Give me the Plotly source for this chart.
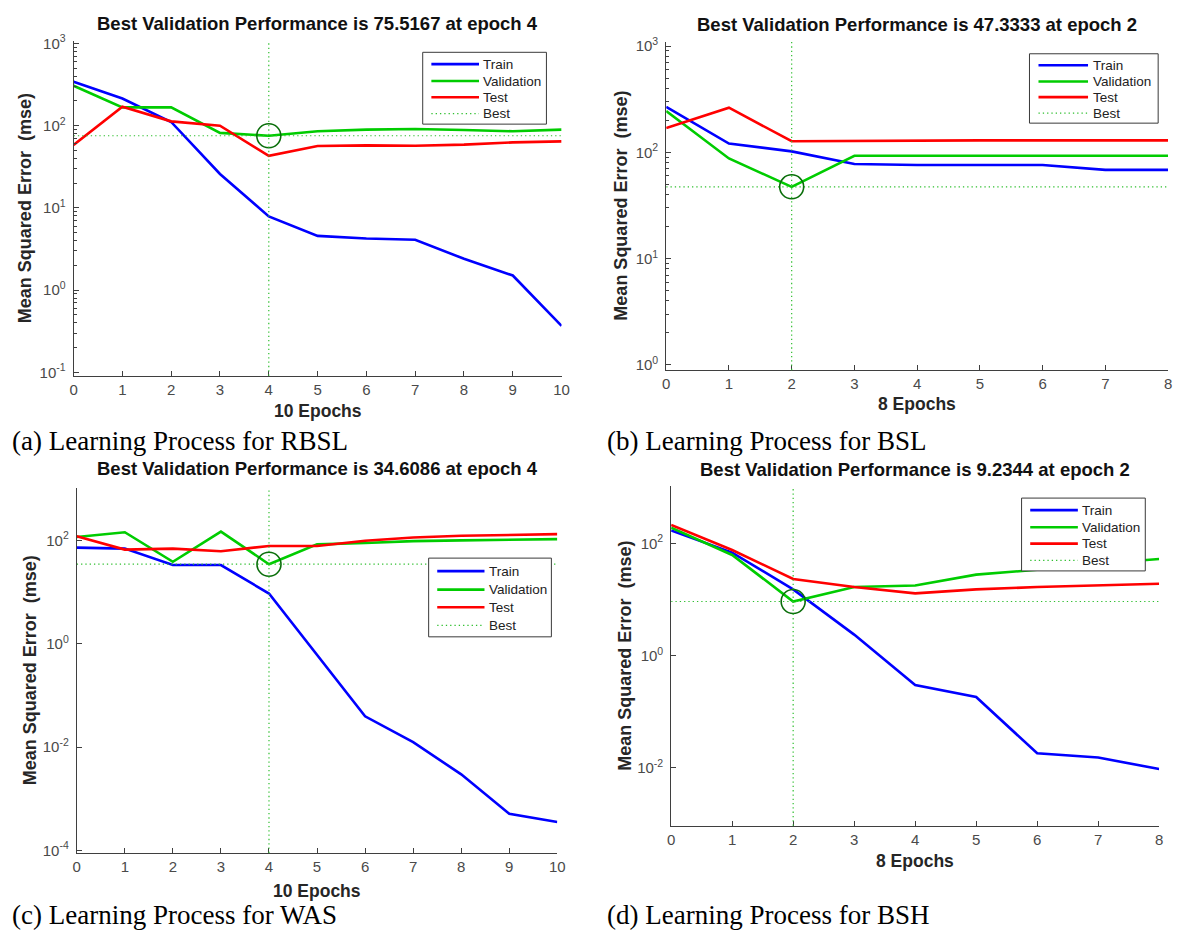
import plotly.graph_objects as go

# ---- training records (mean squared error per epoch) ----
rbsl_epochs = list(range(11))
rbsl_train = [342, 214, 111, 25.9, 7.9, 4.58, 4.26, 4.11, 2.41, 1.51, 0.368]
rbsl_val = [306, 167, 167, 81.7, 75.5167, 85.5, 89.5, 91.2, 88.7, 85.5, 89.5]
rbsl_test = [58.2, 170, 113, 100, 43, 56.6, 57.7, 57, 58.8, 62.7, 64.4]
rbsl_best_epoch, rbsl_best = 4, 75.5167

bsl_epochs = list(range(9))
bsl_train = [267, 121, 102, 77.6, 76, 76, 76, 68.3, 68.3]
bsl_val = [245, 87.5, 47.3333, 92.7, 92.7, 92.7, 92.7, 92.7, 92.7]
bsl_test = [169, 263, 127, 128.5, 129.5, 129.5, 129.5, 129.5, 129.5]
bsl_best_epoch, bsl_best = 2, 47.3333

was_epochs = list(range(11))
was_train = [72.5, 69.3, 33.4, 33.4, 9.36, 0.6, 0.0395, 0.01245, 0.00297, 0.000514, 0.000356]
was_val = [116, 144, 38.6, 148, 34.6086, 83.9, 88.9, 97, 100, 103, 106]
was_test = [120, 66.4, 69.3, 61.7, 78, 78, 98.6, 114, 123, 128, 132]
was_best_epoch, was_best = 4, 34.6086

bsh_epochs = list(range(9))
bsh_train = [171, 68.6, 15.2, 2.37, 0.298, 0.183, 0.0181, 0.0152, 0.0095]
bsh_val = [191, 62.4, 9.2344, 16.7, 17.8, 27.8, 34, 43.4, 53]
bsh_test = [215, 76.4, 23.3, 16.7, 12.9, 15.2, 16.7, 17.8, 19.1]
bsh_best_epoch, bsh_best = 2, 9.2344

captions = ["(a) Learning Process for RBSL", "(b) Learning Process for BSL",
            "(c) Learning Process for WAS", "(d) Learning Process for BSH"]
series_names = ["Train", "Validation", "Test", "Best"]

W, H = 1182, 942


def px(x):
    return x / W


def py(y):
    return 1 - y / H


def sup(p):
    return "10<sup>%s</sup>" % (str(p) if p >= 0 else "-" + str(-p))


C_TRAIN = "#0000ff"
C_VAL = "#00cc00"
C_TEST = "#ff0000"
C_BEST = "#2fbf2f"
C_CIRCLE = "#0a6e0a"
AX = "#3f3f3f"
SANS = "Liberation Sans, Arial, sans-serif"
TICK_FONT = dict(family=SANS, size=15, color="#4a4a4a")
LINE_W = 2.6
BEST_DASH = "1.3px,3px"

panels = [
    dict(ep=rbsl_epochs, tr=rbsl_train, va=rbsl_val, te=rbsl_test, be=rbsl_best_epoch, bv=rbsl_best,
         box=(70.3, 563.3, 32.5, 372.7), yr=(-1.04, 3.03), yt=[-1, 0, 1, 2, 3], minor=range(-1, 3),
         leg=(423, 548, 44, 117), title_y=15, xl_y=408.5, yl_x=22, cap=(6, 439)),
    dict(ep=bsl_epochs, tr=bsl_train, va=bsl_val, te=bsl_test, be=bsl_best_epoch, bv=bsl_best,
         box=(669, 1176, 33.3, 367), yr=(-0.05, 3.04), yt=[0, 1, 2, 3], minor=range(0, 3),
         leg=(1036, 1166, 45.5, 116), title_y=16, xl_y=401.5, yl_x=623, cap=(607, 439)),
    dict(ep=was_epochs, tr=was_train, va=was_val, te=was_test, be=was_best_epoch, bv=was_best,
         box=(73.5, 559, 486.7, 857.7), yr=(-4.05, 3.015), yt=[-4, -2, 0, 2], minor=None,
         leg=(429, 553, 558, 638), title_y=467, xl_y=896.5, yl_x=27, cap=(6, 921)),
    dict(ep=bsh_epochs, tr=bsh_train, va=bsh_val, te=bsh_test, be=bsh_best_epoch, bv=bsh_best,
         box=(674, 1167, 485, 830), yr=(-3.035, 3.02), yt=[-2, 0, 2], minor=None,
         leg=(1028, 1153, 497, 571), title_y=468, xl_y=866, yl_x=627, cap=(607, 921)),
]

# legend entries: (name, colour, width, dash)
legend_items = [(series_names[0], C_TRAIN, LINE_W, "solid"),
                (series_names[1], C_VAL, LINE_W, "solid"),
                (series_names[2], C_TEST, LINE_W, "solid"),
                (series_names[3], C_BEST, 1.2, BEST_DASH)]
legend_rows = [0.165, 0.4, 0.625, 0.855]

fig = go.Figure()
annotations = []
shapes = []
layout_extra = {}

for i, p in enumerate(panels, start=1):
    xa = "x" if i == 1 else "x%d" % i
    ya = "y" if i == 1 else "y%d" % i
    n = p["ep"][-1]

    common = dict(xaxis=xa, yaxis=ya, mode="lines", showlegend=False)
    fig.add_trace(go.Scatter(x=p["ep"], y=p["tr"], name=series_names[0],
                             line=dict(color=C_TRAIN, width=LINE_W), **common))
    fig.add_trace(go.Scatter(x=p["ep"], y=p["va"], name=series_names[1],
                             line=dict(color=C_VAL, width=LINE_W), **common))
    fig.add_trace(go.Scatter(x=p["ep"], y=p["te"], name=series_names[2],
                             line=dict(color=C_TEST, width=LINE_W), **common))
    fig.add_trace(go.Scatter(x=[p["ep"][0], n], y=[p["bv"], p["bv"]], name=series_names[3],
                             line=dict(color=C_BEST, width=1.2, dash=BEST_DASH), **common))
    fig.add_trace(go.Scatter(x=[p["be"]], y=[p["bv"]], mode="markers", showlegend=False,
                             xaxis=xa, yaxis=ya, hoverinfo="skip",
                             marker=dict(symbol="circle-open", size=24,
                                         line=dict(color=C_CIRCLE, width=1.6), color=C_CIRCLE)))
    # vertical marker through the best epoch
    shapes.append(dict(type="line", xref=xa, yref=ya + " domain", x0=p["be"], x1=p["be"],
                       y0=0, y1=1, line=dict(color=C_BEST, width=1.2, dash=BEST_DASH)))

    x0, x1, ytop, ybot = p["box"]
    axis_common = dict(showline=True, linecolor=AX, linewidth=1, mirror=False, ticks="inside",
                       tickcolor=AX, ticklen=5, showgrid=False, zeroline=False,
                       tickfont=TICK_FONT)
    layout_extra["xaxis" if i == 1 else "xaxis%d" % i] = dict(
        domain=[px(x0), px(x1)], anchor=ya, range=[0, n], tickmode="array",
        tickvals=p["ep"], ticktext=[str(e) for e in p["ep"]], ticklabelstandoff=0,
        **axis_common)
    yax = dict(domain=[py(ybot), py(ytop)], anchor=xa, type="log", range=list(p["yr"]),
               tickmode="array", tickvals=[10 ** k for k in p["yt"]],
               ticktext=[sup(k) for k in p["yt"]], ticklabelstandoff=4, **axis_common)
    if p["minor"] is not None:
        yax["minor"] = dict(ticks="inside", ticklen=3, tickcolor=AX, showgrid=False,
                            tickmode="array",
                            tickvals=[m * 10 ** k for k in p["minor"] for m in range(2, 10)])
    layout_extra["yaxis" if i == 1 else "yaxis%d" % i] = yax

    # legend box
    lx0, lx1, ly0, ly1 = p["leg"]
    lw, lh = lx1 - lx0, ly1 - ly0
    shapes.append(dict(type="rect", xref="paper", yref="paper", x0=px(lx0), x1=px(lx1),
                       y0=py(ly1), y1=py(ly0), fillcolor="white",
                       line=dict(color="#3a3a3a", width=1)))
    for (name, col, wid, dash), fr in zip(legend_items, legend_rows):
        yy = py(ly0 + fr * lh)
        shapes.append(dict(type="line", xref="paper", yref="paper",
                           x0=px(lx0 + 0.07 * lw), x1=px(lx0 + 0.455 * lw), y0=yy, y1=yy,
                           line=dict(color=col, width=wid, dash=dash)))
        annotations.append(dict(xref="paper", yref="paper", x=px(lx0 + 0.475 * lw), y=yy,
                                xanchor="left", yanchor="middle", showarrow=False, text=name,
                                font=dict(family=SANS, size=13.5, color="#222222")))

    cx = px((x0 + x1) / 2)
    annotations.append(dict(xref="paper", yref="paper", x=cx, y=py(p["title_y"]),
                            xanchor="center", yanchor="middle", showarrow=False,
                            text="<b>Best Validation Performance is %s at epoch %d</b>" % (
                                ("%.4f" % p["bv"]).rstrip("0").rstrip("."), p["be"]),
                            font=dict(family=SANS, size=18.5, color="#111111")))
    annotations.append(dict(xref="paper", yref="paper", x=cx, y=py(p["xl_y"]),
                            xanchor="center", yanchor="middle", showarrow=False,
                            text="<b>%d Epochs</b>" % n,
                            font=dict(family=SANS, size=17.5, color="#262626")))
    annotations.append(dict(xref="paper", yref="paper", x=px(p["yl_x"]),
                            y=py((ytop + ybot) / 2), xanchor="center", yanchor="middle",
                            showarrow=False, textangle=-90,
                            text="<b>Mean Squared Error\u00a0\u00a0(mse)</b>",
                            font=dict(family=SANS, size=18, color="#262626")))
    annotations.append(dict(xref="paper", yref="paper", x=px(p["cap"][0]), y=py(p["cap"][1]),
                            xanchor="left", yanchor="middle", showarrow=False,
                            text=captions[i - 1],
                            font=dict(family="Liberation Serif, Times New Roman, serif", size=27,
                                      color="#000000")))

fig.update_layout(width=W, height=H, margin=dict(l=0, r=0, t=0, b=0),
                  paper_bgcolor="white", plot_bgcolor="white", showlegend=False,
                  annotations=annotations, shapes=shapes, **layout_extra)

fig.write_html("out.html")
